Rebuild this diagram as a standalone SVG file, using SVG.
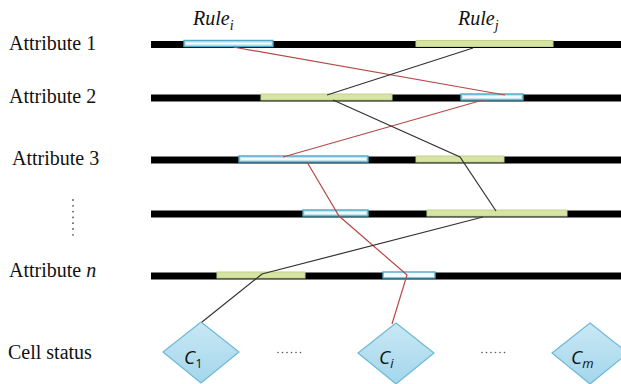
<svg xmlns="http://www.w3.org/2000/svg" width="621" height="384" viewBox="0 0 621 384">
  <defs>
    <linearGradient id="diamondFill" x1="0" y1="0" x2="0" y2="1">
      <stop offset="0" stop-color="#c9e8f4"/>
      <stop offset="1" stop-color="#a3d6ec"/>
    </linearGradient>
    <style>
      .lbl { font-family: "Liberation Serif", "Times New Roman", serif; font-size: 20px; fill: #111; }
      .it { font-style: italic; }
      .cell { font-family: "Open Sans", "Noto Sans", sans-serif; font-style: italic; font-size: 19px; fill: #111; }
      .sub { font-size: 13px; }
      .bar { fill: #000; }
      .blue { fill: #c4e4ee; stroke: #4fa8c4; stroke-width: 1.4; }
      .bluecore { stroke: #ffffff; stroke-width: 1.6; }
      .green { fill: #d6e4a4; stroke: #c2d28c; stroke-width: 1; }
      .red { stroke: #b54a46; stroke-width: 1.2; fill: none; }
      .blk { stroke: #333; stroke-width: 1.2; fill: none; }
      .dia { fill: url(#diamondFill); stroke: #6db9d6; stroke-width: 1.2; }
      .dots { fill: #555; }
    </style>
  </defs>

  <!-- row labels -->
  <g id="labels">
    <text class="lbl" x="9" y="50">Attribute 1</text>
    <text class="lbl" x="9" y="103">Attribute 2</text>
    <text class="lbl" x="12" y="165">Attribute 3</text>
    <g class="dots">
      <circle cx="73" cy="200" r="0.9"/>
      <circle cx="73" cy="205.8" r="0.9"/>
      <circle cx="73" cy="211.6" r="0.9"/>
      <circle cx="73" cy="217.4" r="0.9"/>
      <circle cx="73" cy="223.2" r="0.9"/>
      <circle cx="73" cy="229" r="0.9"/>
      <circle cx="73" cy="234.8" r="0.9"/>
    </g>
    <text class="lbl" x="9" y="277">Attribute <tspan class="it">n</tspan></text>
    <text class="lbl" x="8" y="359">Cell status</text>
    <text class="lbl it" x="193" y="25">Rule<tspan font-size="14" dy="5">i</tspan></text>
    <text class="lbl it" x="458" y="25">Rule<tspan font-size="14" dy="5">j</tspan></text>
  </g>

  <!-- attribute rows: black axis with rule intervals -->
  <g id="row1">
    <rect class="bar" x="151" y="41" width="470" height="7"/>
    <rect class="blue" x="184" y="40.5" width="89" height="6"/>
    <line class="bluecore" x1="186" y1="43.5" x2="271" y2="43.5"/>
    <rect class="green" x="416" y="40.5" width="137" height="6"/>
  </g>
  <g id="row2">
    <rect class="bar" x="151" y="94.5" width="470" height="7"/>
    <rect class="green" x="261" y="94" width="131" height="6"/>
    <rect class="blue" x="461" y="94" width="62" height="6"/>
    <line class="bluecore" x1="463" y1="97" x2="521" y2="97"/>
  </g>
  <g id="row3">
    <rect class="bar" x="151" y="156.5" width="470" height="7"/>
    <rect class="blue" x="239" y="156" width="129" height="6"/>
    <line class="bluecore" x1="241" y1="159" x2="366" y2="159"/>
    <rect class="green" x="416" y="156" width="88" height="6"/>
  </g>
  <g id="row4">
    <rect class="bar" x="151" y="210.5" width="470" height="7"/>
    <rect class="blue" x="303" y="210" width="65" height="6"/>
    <line class="bluecore" x1="305" y1="213" x2="366" y2="213"/>
    <rect class="green" x="427" y="210" width="140" height="6"/>
  </g>
  <g id="rowN">
    <rect class="bar" x="151" y="272.5" width="470" height="7"/>
    <rect class="green" x="217" y="272" width="88" height="6"/>
    <rect x="383" y="272" width="52" height="6" fill="#f4fbfd" stroke="#4fa8c4" stroke-width="1.4"/>
  </g>

  <!-- cell status nodes -->
  <g id="cell1">
    <polygon class="dia" points="201,322 239,352 201,383 163,352"/>
    <text class="cell" x="184" y="364">C<tspan class="sub" font-style="normal" dy="4">1</tspan></text>
  </g>
  <g id="celli">
    <polygon class="dia" points="396,323 434,353 396,384 358,353"/>
    <text class="cell" x="379" y="364">C<tspan class="sub" dy="4">i</tspan></text>
  </g>
  <g id="cellm">
    <polygon class="dia" points="590,323 628,353 590,384 552,353"/>
    <text class="cell" x="571" y="364">C<tspan class="sub" dy="4">m</tspan></text>
  </g>
  <g id="ellipses" class="dots">
    <circle cx="278" cy="352.5" r="0.8"/><circle cx="282.5" cy="352.5" r="0.8"/>
    <circle cx="287" cy="352.5" r="0.8"/><circle cx="291.5" cy="352.5" r="0.8"/>
    <circle cx="296" cy="352.5" r="0.8"/><circle cx="300.5" cy="352.5" r="0.8"/>
    <circle cx="482" cy="352.5" r="0.8"/><circle cx="486.5" cy="352.5" r="0.8"/>
    <circle cx="491" cy="352.5" r="0.8"/><circle cx="495.5" cy="352.5" r="0.8"/>
    <circle cx="500" cy="352.5" r="0.8"/><circle cx="504.5" cy="352.5" r="0.8"/>
  </g>

  <!-- connectors: rule i (red) and rule j (dark) -->
  <g id="connectors">
    <polyline class="red" points="233,47 505,95"/>
    <polyline class="red" points="483,100 283,157"/>
    <polyline class="red" points="307,162 339,216 407,275 392,324"/>
    <polyline class="blk" points="473,48 327,95"/>
    <polyline class="blk" points="333,100 460,157 496,211"/>
    <polyline class="blk" points="483,217 262,274 202,322"/>
  </g>
</svg>
